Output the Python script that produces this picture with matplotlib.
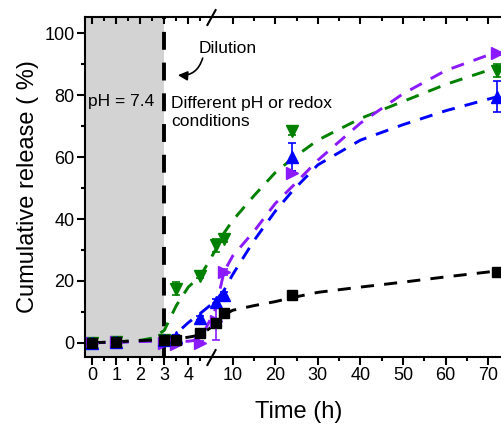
import numpy as np
import matplotlib
matplotlib.use("Agg")
import matplotlib.pyplot as plt
from matplotlib.ticker import FixedLocator, FuncFormatter

plt.rcParams['font.family'] = ['Liberation Sans', 'DejaVu Sans']

# measured points
t = [0, 1, 3, 3.5, 4.5, 6, 8, 24, 72]
green = [0, 0.3, 1, 17.5, 21.5, 31.5, 33.5, 68.5, 88]
green_err = [0.5, 0.5, 0.5, 2, 0.5, 2, 1, 1.5, 2]
blue = [0, 0.3, 1, 2, 8, 13.2, 15.5, 60, 79.5]
blue_err = [0.5, 0.5, 0.5, 0.5, 0.5, 1, 1, 4.5, 5]
purple = [0, 0.3, 0, -0.3, 0, 7, 23, 55, 93.5]
purple_err = [0.5, 0.5, 0.5, 0.5, 0.5, 6, 1, 0.5, 0.5]
black = [0, 0.3, 0.8, 0.8, 3, 6.4, 9.5, 15.5, 23]
black_err = [0.3, 0.3, 0.3, 0.3, 0.3, 0.5, 0.5, 0.5, 0.5]

# fitted curves (dashed)
t_fit = [0, 1, 2, 2.5, 3, 3.25, 3.5, 4, 4.5, 6, 8, 10, 15, 20, 24, 30, 40, 50, 60, 72]
green_fit = [0, 0.3, 0.8, 1.5, 4, 8, 12, 18, 21.5, 30, 35.5, 39.5, 47.5, 55, 59.5, 65.5, 72.5, 78, 83.5, 89]
blue_fit = [0, 0.2, 0.5, 0.7, 1, 1.8, 3, 6.5, 9.5, 13.5, 17, 22, 33, 42.5, 49, 57.5, 65.5, 70.5, 75, 79.5]
purple_fit = [0, 0.2, 0.4, 0.5, 0.5, 0.5, 0.5, 0.5, 1, 11, 23, 28, 36, 45, 50.5, 59, 71, 80.5, 88, 94]
black_fit = [0, 0.3, 0.7, 0.85, 1, 1.1, 1.3, 1.8, 2.5, 6, 9, 10.5, 12, 13.3, 14.6, 16.3, 18, 19.6, 21.3, 23.2]

xmajor = [0, 1, 2, 3, 4, 10, 20, 30, 40, 50, 60, 70]
xminor = [0.5, 1.5, 2.5, 3.5, 4.5, 15, 25, 35, 45, 55, 65, 75]

# broken time axis: 0-5 h stretched, 5-75 h compressed
tb = 4.95
k_left = 24.0
k_right = 4.261


def fwd(x):
    x = np.asarray(x, float)
    return np.where(x <= tb, k_left * x, k_left * tb + k_right * (x - tb))


def inv(p):
    p = np.asarray(p, float)
    return np.where(p <= k_left * tb, p / k_left, tb + (p - k_left * tb) / k_right)


fig = plt.figure(figsize=(5.01, 4.25), dpi=100)
ax = fig.add_axes([0.1697, 0.1607, 0.868, 0.7986])
ax.set_xscale('function', functions=(fwd, inv))
ax.set_xlim(-0.3, 77.4)
ax.set_ylim(-4.5, 105.2)

ax.axvspan(-0.3, 3, color='#d3d3d3', lw=0, zorder=0)
ax.axvline(3, color='k', lw=2.8, dashes=(4.6, 3.3), zorder=1)

dash = dict(lw=2.1, dashes=(4.5, 3.5))
ax.plot(t_fit, green_fit, color='#008000', **dash)
ax.plot(t_fit, blue_fit, color='#0000ff', **dash)
ax.plot(t_fit, purple_fit, color='#8b1aff', **dash)
ax.plot(t_fit, black_fit, color='k', **dash)

eb = dict(capsize=3, elinewidth=1.2, capthick=1.2, ls='none')
ax.errorbar(t, green, yerr=green_err, fmt='v', color='#008000', ms=9.3, **eb)
ax.errorbar(t, purple, yerr=purple_err, fmt='>', color='#8b1aff', ms=9.3, **eb)
ax.errorbar(t, blue, yerr=blue_err, fmt='^', color='#0000ff', ms=9.3, **eb)
ax.errorbar(t, black, yerr=black_err, fmt='s', color='k', ms=7.2, **eb)

# break marks
ax.plot([tb + 0.01, tb + 0.01], [0, 1], transform=ax.get_xaxis_transform(),
        marker=[(-0.55, -1), (0.55, 1)], ms=12, mew=1.5, color='k',
        ls='none', clip_on=False, zorder=5)

ax.xaxis.set_major_locator(FixedLocator(xmajor))
ax.xaxis.set_minor_locator(FixedLocator(xminor))
ax.xaxis.set_major_formatter(FuncFormatter(lambda v, _: f"{v:g}"))
ax.set_yticks([0, 20, 40, 60, 80, 100])
ax.set_yticks([10, 30, 50, 70, 90], minor=True)

for s in ax.spines.values():
    s.set_linewidth(1.5)
ax.tick_params(axis='both', which='major', labelsize=13, width=1.5, length=5.5, pad=2)
ax.tick_params(axis='both', which='minor', width=1.5, length=3)
ax.tick_params(axis='x', which='both', top=False, direction='out')

# inward ticks on the top spine
top = ax.twiny()
top.set_xscale('function', functions=(fwd, inv))
top.set_xlim(ax.get_xlim())
top.xaxis.set_major_locator(FixedLocator(xmajor))
top.xaxis.set_minor_locator(FixedLocator(xminor))
top.tick_params(axis='x', which='major', direction='in', length=5, width=1.5,
                labeltop=False, top=True, bottom=False)
top.tick_params(axis='x', which='minor', direction='in', length=3, width=1.5,
                top=True, bottom=False)
for s in top.spines.values():
    s.set_visible(False)

ax.set_xlabel('Time (h)', fontsize=17)
ax.set_ylabel('Cumulative release ( %)', fontsize=17, labelpad=4)
ax.xaxis.set_label_coords(0.492, -0.13)

ax.text(-0.18, 78.1, 'pH = 7.4', fontsize=12.5, va='center', ha='left')
ax.text(3.28, 74.4, 'Different pH or redox\nconditions', fontsize=12.5,
        va='center', ha='left', linespacing=1.3)
ax.text(4.45, 95.2, 'Dilution', fontsize=12.5, va='center', ha='left')
ax.annotate('', xy=(3.57, 86.5), xytext=(4.6, 92),
            arrowprops=dict(arrowstyle='-|>', color='k', lw=1.2,
                            connectionstyle='arc3,rad=-0.4',
                            shrinkA=0, shrinkB=0, mutation_scale=14))

fig.savefig('out.png', dpi=100)
